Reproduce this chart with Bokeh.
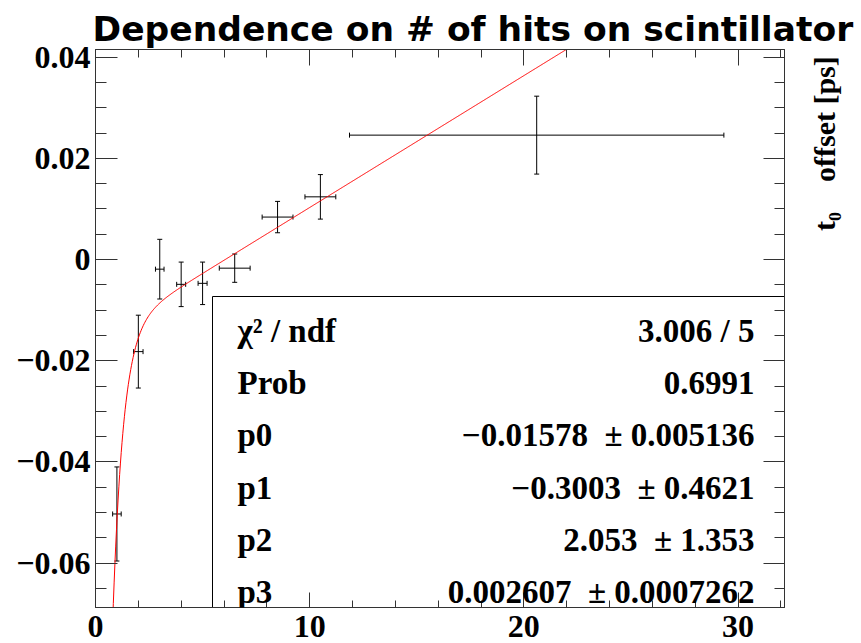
import math
import numpy as np
from bokeh.plotting import figure
from bokeh.models import (Range1d, LinearAxis, FixedTicker, CustomJSTickFormatter,
                          ColumnDataSource, Whisker, TeeHead, BoxAnnotation, Label)
from bokeh.embed import file_html
from bokeh.resources import INLINE

# t0 offset vs. number of hits on the scintillator
hits = [1.0, 2.0, 3.0, 4.0, 5.0, 6.5, 8.5, 10.5, 20.6]
hits_err = [0.20, 0.22, 0.20, 0.21, 0.21, 0.72, 0.72, 0.72, 8.74]
offset = [-0.0503, -0.0182, -0.0019, -0.0049, -0.0047, -0.0017, 0.0084, 0.0124, 0.0246]
offset_err = [0.0093, 0.0072, 0.0059, 0.0044, 0.0042, 0.0028, 0.0031, 0.0044, 0.0077]

# fit: f(x) = p0 + p1*exp(-p2*x) + p3*x
fit_names = ["p0", "p1", "p2", "p3"]
fit_params = [-0.01578, -0.3003, 2.053, 0.002607]
fit_errors = [0.005136, 0.4621, 1.353, 0.0007262]
chi2, ndf, prob = 3.006, 5, 0.6991

x_major = [0, 10, 20, 30]
x_minor = [2, 4, 6, 8, 12, 14, 16, 18, 22, 24, 26, 28, 32]
y_major = [-0.06, -0.04, -0.02, 0.0, 0.02, 0.04]
y_minor = [round(-0.065 + 0.005 * i, 3) for i in range(22)]

TITLE = "Dependence on # of hits on scintillator"
NBSP = "\u00a0"
Y_TITLE = "t\u2080" + NBSP * 3 + " offset [ps]"

W, H = 861, 643
FL, FR, FT, FB = 95, 784, 49, 607          # frame edges in pixels
X0, X1 = 0.0, 32.17
Y0, Y1 = -0.06879, 0.04153


def sx(px):
    return X0 + (px - FL) / (FR - FL) * (X1 - X0)


def sy(py):
    return Y1 - (py - FT) / (FB - FT) * (Y1 - Y0)


def num(v):
    return f"{v:.4g}".replace("-", "\u2212")


p = figure(width=W, height=H, x_range=Range1d(X0, X1), y_range=Range1d(Y0, Y1),
           output_backend="svg", toolbar_location=None,
           min_border_left=FL, min_border_right=W - FR,
           min_border_top=FT, min_border_bottom=H - FB)
p.grid.visible = False
p.background_fill_color = "white"
p.border_fill_color = "white"
p.outline_line_color = "#333333"

# title above the frame
p.title.text = TITLE
p.title.text_font = "DejaVu Sans"
p.title.text_font_style = "bold"
p.title.text_font_size = "34.5px"
p.title.text_color = "black"
p.title.align = "left"
p.title.offset = -3
p.title.standoff = 2

FRAME_COL = "#333333"
TICK_FONT = "Liberation Serif"


def style_axis(ax, major_in, minor_in):
    ax.axis_line_color = FRAME_COL
    ax.major_tick_line_color = FRAME_COL
    ax.minor_tick_line_color = FRAME_COL
    ax.major_tick_out = 0
    ax.minor_tick_out = 0
    ax.major_tick_in = major_in
    ax.minor_tick_in = minor_in
    ax.major_label_text_font = TICK_FONT
    ax.major_label_text_font_style = "bold"
    ax.major_label_text_font_size = "32px"
    ax.major_label_text_color = "black"


xticker = FixedTicker(ticks=x_major, minor_ticks=x_minor)
yticker = FixedTicker(ticks=y_major, minor_ticks=y_minor)
yfmt = CustomJSTickFormatter(code="""
    if (Math.abs(tick) < 1e-9) return '0';
    return (tick < 0 ? '\u2212' : '') + Math.abs(tick).toFixed(2);
""")
blank = CustomJSTickFormatter(code="return '';")

xb = p.xaxis[0]
xb.ticker = xticker
style_axis(xb, 15, 7)
xb.major_label_standoff = 8

yl = p.yaxis[0]
yl.ticker = yticker
yl.formatter = yfmt
style_axis(yl, 22, 11)
yl.major_label_standoff = 5

xt = LinearAxis(ticker=xticker, formatter=blank)
style_axis(xt, 16, 8)
xt.major_label_text_font_size = "1px"
xt.major_label_standoff = 0
p.add_layout(xt, "above")

# right axis: ticks only
yr = LinearAxis(ticker=yticker, formatter=blank)
style_axis(yr, 21, 10)
yr.major_label_text_font_size = "1px"
yr.major_label_standoff = 0
p.add_layout(yr, "right")

# rotated axis title of the neighbouring panel at the page edge; it starts at
# the middle of the frame, so leading no-break spaces lift it to the upper part
ylab = LinearAxis(ticker=FixedTicker(ticks=[]), formatter=blank)
ylab.axis_line_color = None
ylab.major_tick_line_color = None
ylab.minor_tick_line_color = None
ylab.major_label_text_font_size = "1px"
ylab.major_label_standoff = 0
ylab.axis_label = NBSP * 13 + Y_TITLE
ylab.axis_label_text_font = TICK_FONT
ylab.axis_label_text_font_style = "bold"
ylab.axis_label_text_font_size = "30px"
ylab.axis_label_text_color = "black"
ylab.axis_label_orientation = math.pi / 2
ylab.axis_label_align = "center"
ylab.axis_label_standoff = 40
p.add_layout(ylab, "right")

# statistics box (drawn beneath the axes so the ticks stay visible)
p.add_layout(BoxAnnotation(left=sx(212), right=X1, top=sy(296), bottom=Y0,
                           fill_color="white", fill_alpha=1.0,
                           line_color="black", line_alpha=1.0, line_width=1,
                           level="underlay"))

# fit curve
xs = np.linspace(0.5, 30.0, 800)
p0, p1, p2, p3 = fit_params
ys = p0 + p1 * np.exp(-p2 * xs) + p3 * xs
p.line(xs, ys, line_color="#ff0000", line_width=1)

# data points with error bars
src = ColumnDataSource(dict(
    x=hits, y=offset,
    xlo=[a - b for a, b in zip(hits, hits_err)],
    xhi=[a + b for a, b in zip(hits, hits_err)],
    ylo=[a - b for a, b in zip(offset, offset_err)],
    yhi=[a + b for a, b in zip(offset, offset_err)],
))


def head():
    return TeeHead(size=5, line_color="black", line_width=1)


p.add_layout(Whisker(source=src, base="x", lower="ylo", upper="yhi", dimension="height",
                     line_color="black", line_width=1,
                     lower_head=head(), upper_head=head()))
p.add_layout(Whisker(source=src, base="y", lower="xlo", upper="xhi", dimension="width",
                     line_color="black", line_width=1,
                     lower_head=head(), upper_head=head()))

# statistics text
rows_left = ["\u03c7\u00b2 / ndf", "Prob"] + fit_names
rows_right = [f"{chi2:.3f} / {ndf}", f"{prob:.4f}"] + [
    f"{num(v)}{NBSP}{NBSP}\u00b1 {num(e)}" for v, e in zip(fit_params, fit_errors)]
row_base = [330, 382, 434, 487, 539, 591]
for txt_l, txt_r, by in zip(rows_left, rows_right, row_base):
    for txt, px, align in ((txt_l, 237, "left"), (txt_r, 754, "right")):
        p.add_layout(Label(x=sx(px), y=sy(by), text=txt, text_align=align,
                           text_baseline="alphabetic", text_font=TICK_FONT,
                           text_font_style="bold", text_font_size="33px",
                           text_color="black"))

open("out.html", "w").write(file_html(p, INLINE))
